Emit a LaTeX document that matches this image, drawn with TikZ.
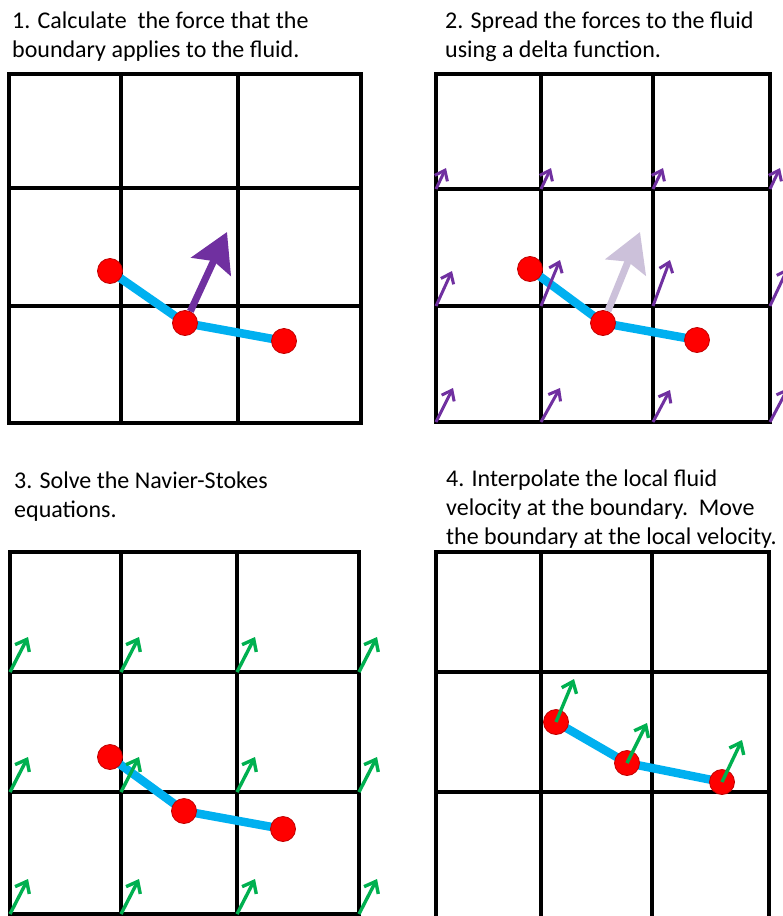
\documentclass[tikz,border=0pt]{standalone}
\usepackage{fontspec}
\setmainfont{Carlito}
\usetikzlibrary{arrows.meta}
\definecolor{bnd}{HTML}{00B0F0}
\definecolor{frc}{HTML}{7030A0}
\definecolor{frclight}{HTML}{CCC1DA}
\definecolor{vel}{HTML}{00B050}
\definecolor{dotedge}{HTML}{C00000}
\pgfdeclarelayer{gridlayer}
\pgfdeclarelayer{midlayer}
\pgfsetlayers{gridlayer,midlayer,main}
\newcommand\fluidgrid[8]{%
  \begin{pgfonlayer}{gridlayer}
  \draw[gridline] (#1,#5) rectangle (#4,#8);
  \draw[gridline] (#2,#5) -- (#2,#8) (#3,#5) -- (#3,#8)
                  (#1,#6) -- (#4,#6) (#1,#7) -- (#4,#7);
  \end{pgfonlayer}}
\begin{document}
\begin{tikzpicture}[x=1pt,y=-1pt,
  gridline/.style={line width=3.2pt,black},
  caption/.style={anchor=base west,inner sep=0pt,font=\fontsize{24}{29}\selectfont},
  dot/.style={circle,fill=red,draw=dotedge,line width=0.8pt,minimum size=25pt,inner sep=0pt},
  boundary/.style={bnd,line width=8.5pt},
  bigforce/.style={frc,line width=7pt,-{Stealth[length=38pt,width=43pt,inset=6pt]}},
  ghostforce/.style={frclight,line width=7pt,-{Stealth[length=38pt,width=43pt,inset=6pt]}},
  smallforce/.style={frc,line width=3pt,-{Straight Barb[length=9pt,width=14pt]}},
  velarrow/.style={vel,line width=3.4pt,-{Straight Barb[length=10pt,width=16pt]}}]
\useasboundingbox (0,0) rectangle (783,916);
\clip (0,0) rectangle (783,916);

% ---------- captions ----------
\node[caption] (t1a) at (12,28) {1. Calculate\ \ the force that the};
\node[caption] (t1b) at (12,57) {boundary applies to the fluid.};
\node[caption] (t2a) at (445,28) {2. Spread the forces to the fluid};
\node[caption] (t2b) at (445,57) {using a delta function.};
\node[caption] (t3a) at (14,488) {3. Solve the Navier-Stokes};
\node[caption] (t3b) at (14,517) {equations.};
\node[caption] (t4a) at (446,486) {4. Interpolate the local fluid};
\node[caption] (t4b) at (446,515) {velocity at the boundary.\ \ Move};
\node[caption] (t4c) at (446,544) {the boundary at the local velocity.};

% ---------- grids ----------
\fluidgrid{9}{121}{238}{361}{74}{188}{306}{423}
\fluidgrid{436}{541}{653}{770}{74}{189}{306}{422}
\fluidgrid{10}{121}{237}{359}{552}{672}{792}{914}
\fluidgrid{436}{541}{652}{769}{552}{672}{792}{920}

% ---------- boundary points ----------
\node[dot] (a1) at (110,271) {};
\node[dot] (a2) at (185,323) {};
\node[dot] (a3) at (284,341) {};
\node[dot] (b1) at (530,269) {};
\node[dot] (b2) at (603,323) {};
\node[dot] (b3) at (697,340) {};
\node[dot] (c1) at (110,757) {};
\node[dot] (c2) at (184,811) {};
\node[dot] (c3) at (283,829) {};
\node[dot] (d1) at (556,722) {};
\node[dot] (d2) at (627,763) {};
\node[dot] (d3) at (722,782) {};

\begin{pgfonlayer}{midlayer}
% boundaries
\draw[boundary] (a1.center) -- (a2.center) -- (a3.center);
\draw[boundary] (b1.center) -- (b2.center) -- (b3.center);
\draw[boundary] (c1.center) -- (c2.center) -- (c3.center);
\draw[boundary] (d1.center) -- (d2.center) -- (d3.center);

% spread forces (panel 2)
\foreach \x in {436,541,653,770} \draw[smallforce] (\x,189) -- ++(10,-21);
\draw[smallforce] (436,306) -- (452,271);
\draw[smallforce] (541,306) -- (560,260);
\draw[smallforce] (653,306) -- (670,260);
\draw[smallforce] (770,306) -- (788,268);
\draw[smallforce] (436,422) -- (453,388);
\draw[smallforce] (541,422) -- (560,388);
\draw[smallforce] (653,422) -- (670,390);
\draw[smallforce] (770,422) -- (788,388);

% fluid velocities (panel 3)
\foreach \x in {10,121,237,359}
  \foreach \y in {672,792,914}
    \draw[velarrow] (\x,\y) -- ++(18,-35);
\end{pgfonlayer}

% force on the boundary
\coordinate (f1) at (227,232);
\coordinate (f2) at (640,232);
\draw[bigforce] (a2) -- (f1);
\draw[ghostforce] (b2) -- (f2);

% interpolated boundary velocities (panel 4)
\coordinate (v1) at (574,679);
\coordinate (v2) at (647,723);
\coordinate (v3) at (742,740);
\draw[velarrow] (d1.center) -- (v1);
\draw[velarrow] (d2.center) -- (v2);
\draw[velarrow] (d3.center) -- (v3);
\end{tikzpicture}
\end{document}
